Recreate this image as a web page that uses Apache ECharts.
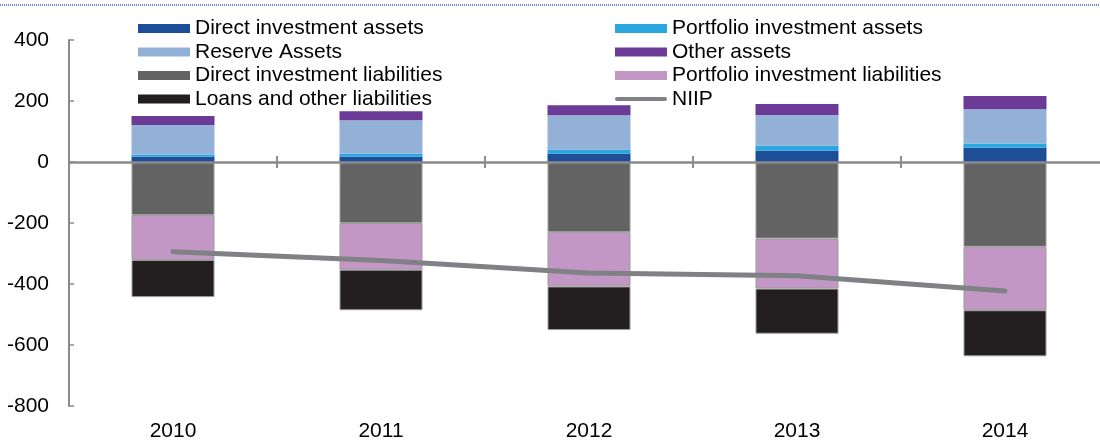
<!DOCTYPE html>
<html>
<head>
<meta charset="utf-8">
<script src="https://cdn.jsdelivr.net/npm/echarts@6/dist/echarts.min.js"></script>
<style>
html, body { margin: 0; padding: 0; background: #fff; }
#container { width: 1100px; height: 443px; }
</style>
</head>
<body>
<div id="container"></div>
<script>
var years = ['2010', '2011', '2012', '2013', '2014'];
var yTicks = [-800, -600, -400, -200, 0, 200, 400];

var directAssets = [17, 17, 27, 37, 47];
var portfolioAssets = [8, 10, 14, 16, 14];
var reserveAssets = [96, 110, 112, 101, 112];
var otherAssets = [30, 29, 33, 36, 43];
var directLiab = [-174, -200, -230, -251, -278];
var portfolioLiab = [-147, -153, -178, -164, -208];
var loansLiab = [-122, -133, -143, -148, -151];
var niip = [-294, -323, -364, -373, -423];

window.onload = function () {
    var dom = document.getElementById('container');
    var myChart = echarts.init(dom, null, { renderer: 'canvas' });
    var font = 'Liberation Sans, Arial, sans-serif';
    var axisGrey = '#8a8a8c';

    var yMin = yTicks[0];
    var yMax = yTicks[yTicks.length - 1];
    var plotHeight = 366;
    // helper y axis, shifted down by 6px, so the category ticks cross the zero line
    var shift = 6 * (yMax - yMin) / plotHeight;

    function bar(name, data, color, border) {
        return {
            name: name,
            type: 'bar',
            stack: 'total',
            xAxisIndex: 0,
            yAxisIndex: 0,
            barWidth: 83,
            data: data,
            itemStyle: {
                color: color,
                borderColor: border ? '#9c9c9c' : color,
                borderWidth: border ? 1 : 0
            },
            emphasis: { disabled: true }
        };
    }

    var legendText = { fontSize: 21, fontFamily: font, color: '#000', lineHeight: 21 };

    var series = [
        bar('Direct investment assets', directAssets, '#1f4e99', false),
        bar('Portfolio investment assets', portfolioAssets, '#2aa7df', false),
        bar('Reserve Assets', reserveAssets, '#93b1d6', false),
        bar('Other assets', otherAssets, '#6c3a97', false),
        bar('Direct investment liabilities', directLiab, '#636363', true),
        bar('Portfolio investment liabilities', portfolioLiab, '#c297c6', true),
        bar('Loans and other liabilities', loansLiab, '#231f20', true),
        {
            name: 'NIIP',
            type: 'line',
            xAxisIndex: 0,
            yAxisIndex: 0,
            data: niip,
            symbol: 'none',
            z: 5,
            itemStyle: { color: '#808184' },
            lineStyle: { color: '#808184', width: 5, cap: 'round', join: 'round' },
            emphasis: { disabled: true }
        }
    ];
    // zero line across the bars
    series[6].markLine = {
        silent: true,
        symbol: 'none',
        label: { show: false },
        lineStyle: { color: axisGrey, width: 2.5, type: 'solid' },
        emphasis: { disabled: true },
        data: [{ yAxis: 0 }]
    };

    var option = {
        animation: false,
        textStyle: { fontFamily: font },
        grid: { left: 69, top: 40, width: 1040, height: plotHeight, containLabel: false, outerBoundsMode: 'none' },
        legend: [{
            orient: 'vertical',
            left: 133,
            top: 13,
            itemWidth: 52,
            itemHeight: 9,
            itemGap: 2.5,
            icon: 'rect',
            itemStyle: { borderWidth: 0 },
            textStyle: legendText,
            data: ['Direct investment assets', 'Reserve Assets', 'Direct investment liabilities', 'Loans and other liabilities']
        }, {
            orient: 'vertical',
            left: 610,
            top: 13,
            itemWidth: 52,
            itemHeight: 9,
            itemGap: 2.5,
            icon: 'rect',
            itemStyle: { borderWidth: 0 },
            textStyle: legendText,
            data: ['Portfolio investment assets', 'Other assets', 'Portfolio investment liabilities',
                { name: 'NIIP', icon: 'path://M2,0 H50 A2,2 0 0 1 50,4 H2 A2,2 0 0 1 2,0 Z' }]
        }],
        graphic: [{
            type: 'line',
            shape: { x1: 0, y1: 5, x2: 1100, y2: 5 },
            style: { stroke: '#3f5ca8', lineWidth: 1.5, lineDash: [1, 1] }
        }],
        xAxis: [{
            type: 'category',
            data: years,
            position: 'bottom',
            axisLine: { show: false, onZero: false },
            axisTick: { show: false },
            axisLabel: { margin: 15, fontSize: 21, color: '#000', fontFamily: font },
            splitLine: { show: false }
        }, {
            type: 'category',
            data: years,
            position: 'top',
            axisLine: { show: true, onZero: true, onZeroAxisIndex: 1, lineStyle: { color: axisGrey, width: 0, opacity: 0 } },
            axisTick: { show: true, length: 12, lineStyle: { color: axisGrey, width: 2 } },
            axisLabel: { show: false },
            splitLine: { show: false }
        }],
        yAxis: [{
            type: 'value',
            min: yMin,
            max: yMax,
            interval: 200,
            position: 'left',
            axisLine: { show: true, onZero: false, lineStyle: { color: axisGrey, width: 2 } },
            axisTick: { show: true, inside: true, length: 5, lineStyle: { color: axisGrey, width: 1.5 } },
            axisLabel: { margin: 20, fontSize: 21, color: '#000', fontFamily: font },
            splitLine: { show: false }
        }, {
            type: 'value',
            min: yMin + shift,
            max: yMax + shift,
            position: 'right',
            axisLine: { show: false, onZero: false },
            axisTick: { show: false },
            axisLabel: { show: false },
            splitLine: { show: false }
        }],
        series: series
    };

    if (option && typeof option === 'object') {
        myChart.setOption(option, true);
    }
};
</script>
</body>
</html>
